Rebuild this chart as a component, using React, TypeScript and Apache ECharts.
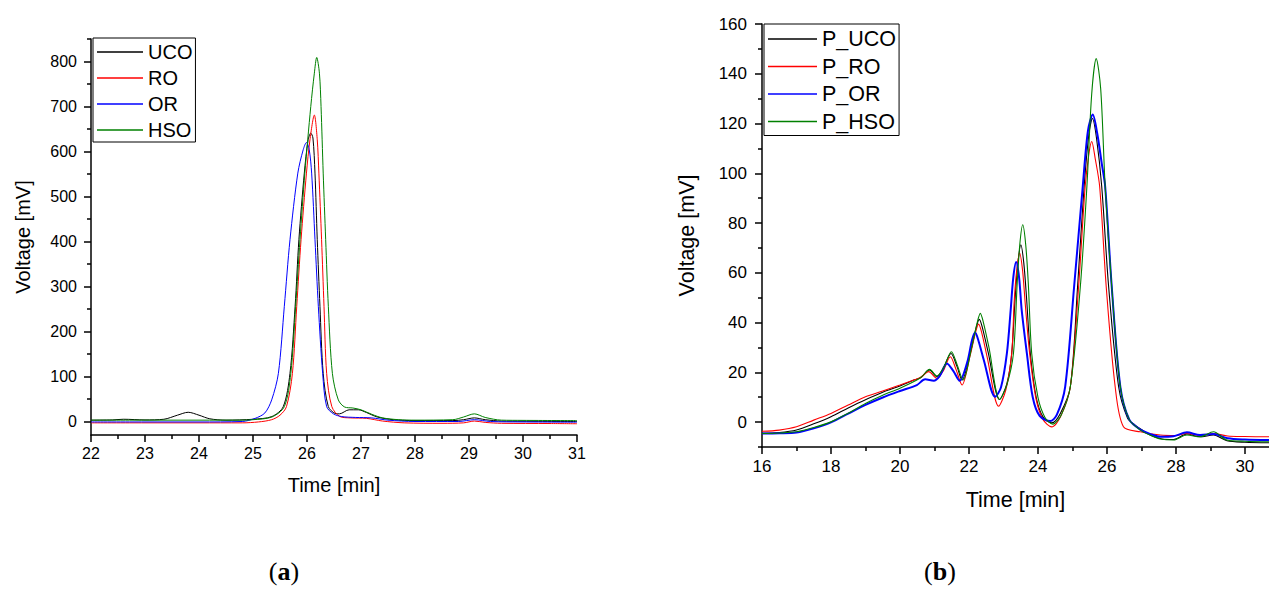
import React, { useEffect, useRef } from "react";
import * as echarts from "echarts";

// ---------- Data (time [min], voltage [mV]) ----------
const leftUCO: [number, number][] = [
  [22, 3], [22.4, 3.5], [22.6, 5], [23, 3.5], [23.35, 5], [23.6, 14], [23.8, 20.5], [24.0, 14], [24.2, 6], [24.5, 3],
  [25, 5], [25.35, 11], [25.56, 33], [25.685, 107], [25.78, 256], [25.85, 404], [25.95, 552], [26.02, 625],
  [26.07, 641], [26.11, 630], [26.148, 552], [26.19, 404], [26.24, 256], [26.3, 107], [26.395, 33], [26.52, 18],
  [26.6, 17], [26.78, 26], [26.95, 26], [27.1, 20], [27.3, 10], [27.6, 4], [28, 2], [28.7, 2], [28.9, 4],
  [29.1, 8], [29.3, 4], [29.6, 1], [30, 0.5], [31, 0],
];
const leftRO: [number, number][] = [
  [22, -3], [23, -3], [24, -3], [24.8, -3], [25.1, -1], [25.346, 4], [25.5, 14], [25.62, 33], [25.73, 107],
  [25.81, 256], [25.89, 404], [25.99, 552], [26.055, 626], [26.136, 681], [26.19, 626], [26.22, 552], [26.27, 404],
  [26.315, 256], [26.364, 107], [26.46, 33], [26.61, 11], [26.8, 8], [27.1, 7], [27.4, 1], [27.8, -3], [28.5, -4],
  [28.9, -3], [29.1, 1], [29.3, -2], [29.6, -4], [30.5, -4.5], [31, -5],
];
const leftOR: [number, number][] = [
  [22, -1], [23, -1], [24, -1], [24.8, 0], [25.04, 7], [25.22, 19], [25.346, 48], [25.47, 107], [25.58, 256],
  [25.685, 404], [25.83, 552], [25.93, 604], [25.99, 620], [26.04, 605], [26.086, 552], [26.148, 404], [26.21, 256],
  [26.29, 107], [26.364, 33], [26.49, 17], [26.64, 11], [26.9, 9], [27.2, 8], [27.5, 3], [28, 0], [28.8, 0],
  [29.1, 4], [29.4, 0], [30, -1], [31, -1.5],
];
const leftHSO: [number, number][] = [
  [22, 3], [23, 3], [24, 3], [24.8, 3], [25, 4], [25.35, 10], [25.58, 33], [25.7, 107], [25.79, 256], [25.87, 404],
  [25.96, 552], [26.07, 700], [26.136, 774], [26.18, 809], [26.23, 774], [26.26, 700], [26.3, 552], [26.346, 404],
  [26.395, 256], [26.47, 107], [26.58, 48], [26.7, 32], [26.85, 30], [27, 26], [27.2, 16], [27.4, 8], [27.7, 4],
  [28, 3], [28.7, 4], [28.9, 10], [29.1, 17], [29.3, 9], [29.6, 3], [30, 2.5], [31, 2],
];

const rightUCO: [number, number][] = [
  [16, -4.5], [16.5, -4.2], [17, -3.2], [17.5, -0.7], [18, 2.2], [18.5, 5.7], [19, 9.0], [19.5, 12.0], [20, 14.5],
  [20.4, 16.9], [20.6, 17.8], [20.85, 21.0], [21.07, 18.3], [21.25, 21.5], [21.48, 27.6], [21.65, 22.5], [21.8, 16.9],
  [22.05, 28.5], [22.21, 38], [22.3, 41.3], [22.39, 38], [22.55, 28.5], [22.89, 9.1], [23.1, 15.5], [23.24, 27.6],
  [23.34, 50], [23.42, 64], [23.506, 71.3], [23.59, 64], [23.67, 50], [23.78, 27.6], [23.95, 10], [24.15, 2],
  [24.4, -0.3], [24.65, 3.5], [24.94, 14.2], [25.15, 54.5], [25.34, 94.7], [25.48, 116], [25.58, 122], [25.7, 114],
  [25.85, 94.7], [26.05, 54.5], [26.34, 14.2], [26.6, 1.5], [26.8, -1], [27.0, -3], [27.3, -5.5], [27.6, -6.8],
  [27.93, -7], [28.32, -4.8], [28.7, -5.9], [29.09, -5.2], [29.48, -7.5], [30.0, -8.1], [30.7, -8.3],
];
const rightRO: [number, number][] = [
  [16, -3.7], [16.5, -3.2], [17, -1.9], [17.5, 0.8], [18, 3.5], [18.5, 6.9], [19, 10.2], [19.5, 12.5], [20, 14.9],
  [20.4, 16.9], [20.6, 18], [20.83, 20.3], [21.07, 17.6], [21.25, 20.5], [21.46, 26.3], [21.63, 21], [21.8, 14.9],
  [22.03, 26.5], [22.19, 36], [22.28, 39.4], [22.37, 36], [22.53, 26], [22.86, 6.4], [23.07, 13], [23.24, 27.6],
  [23.31, 48], [23.385, 61], [23.47, 67.9], [23.555, 61], [23.63, 48], [23.76, 27.6], [23.95, 9], [24.15, 1],
  [24.4, -1.9], [24.65, 2], [24.94, 14.2], [25.18, 54.5], [25.37, 94.7], [25.48, 108], [25.56, 112.8], [25.66, 106],
  [25.79, 94.7], [25.98, 54.5], [26.24, 14.2], [26.48, -1.9], [26.97, -3.9], [27.55, -5.2], [28.0, -5.4],
  [28.3, -4.6], [28.7, -5.3], [29.1, -4.6], [29.5, -5.6], [30.0, -5.8], [30.7, -5.9],
];
const rightOR: [number, number][] = [
  [16, -4.6], [16.5, -4.5], [17, -4.2], [17.5, -2.5], [18, -0.1], [18.5, 3.4], [19, 6.9], [19.5, 9.9], [20, 12.5],
  [20.49, 14.9], [20.73, 17.2], [20.98, 16.6], [21.15, 18.5], [21.36, 23.6], [21.55, 20.5], [21.73, 16.6],
  [21.95, 24], [22.09, 33], [22.18, 36], [22.27, 33], [22.43, 25], [22.76, 10.2], [22.93, 14], [23.1, 27.6],
  [23.21, 45], [23.285, 58], [23.37, 64.3], [23.455, 58], [23.53, 45], [23.68, 27.6], [23.85, 10], [24.05, 2.5],
  [24.356, 0.4], [24.55, 3], [24.79, 14.2], [25.05, 54.5], [25.3, 94.7], [25.45, 117], [25.59, 123.6], [25.72, 116],
  [25.85, 104], [25.95, 94.7], [26.14, 54.5], [26.39, 14.2], [26.65, 1], [26.97, -3], [27.3, -5], [27.55, -5.9],
  [27.93, -5.7], [28.32, -4.1], [28.7, -5.2], [29.09, -4.8], [29.5, -6.5], [30.0, -7.0], [30.7, -7.2],
];
const rightHSO: [number, number][] = [
  [16, -4.6], [16.5, -4.4], [17, -3.9], [17.5, -2.2], [18, 0.1], [18.5, 3.6], [19, 7.5], [19.5, 10.8], [20, 13.6],
  [20.49, 16.9], [20.65, 18.5], [20.86, 21.2], [21.07, 18.5], [21.27, 22], [21.49, 28.3], [21.66, 23], [21.83, 16.9],
  [22.08, 30], [22.24, 40], [22.33, 43.7], [22.42, 40], [22.58, 30], [22.89, 9.1], [23.1, 15], [23.29, 27.6],
  [23.4, 56], [23.475, 71.5], [23.56, 79.3], [23.645, 71.5], [23.72, 56], [23.82, 27.6], [24.0, 10], [24.2, 2],
  [24.43, -0.8], [24.68, 3], [24.94, 14.2], [25.23, 54.5], [25.42, 94.7], [25.56, 132], [25.69, 146.1],
  [25.82, 134], [25.95, 94.7], [26.14, 54.5], [26.39, 14.2], [26.65, 1], [26.97, -3.2], [27.3, -5.5], [27.55, -6.8],
  [27.93, -7.2], [28.32, -5.2], [28.7, -5.9], [29.09, -3.9], [29.48, -7.2], [30.0, -7.7], [30.7, -7.9],
];

// ---------- Tick values ----------
const leftYMajor = [0, 100, 200, 300, 400, 500, 600, 700, 800];
const leftYMinor = [50, 150, 250, 350, 450, 550, 650, 750, 850];
const rightYMajor = [0, 20, 40, 60, 80, 100, 120, 140, 160];
const rightYMinor = [-10, 10, 30, 50, 70, 90, 110, 130, 150];
const rightXMajor = [16, 18, 20, 22, 24, 26, 28, 30];
const rightXMinor = [17, 19, 21, 23, 25, 27, 29];

const leftNames = ["UCO", "RO", "OR", "HSO"];
const rightNames = ["P_UCO", "P_RO", "P_OR", "P_HSO"];
const colors = ["#000000", "#ff0000", "#0000ff", "#008000"];

const FONT = "Liberation Sans";

function App() {
  const ref = useRef<HTMLDivElement>(null);

  useEffect(() => {
    if (!ref.current) return;
    const chart = echarts.init(ref.current, null, { renderer: "svg" });

    const tickStyle = { color: "#000", width: 1.5 };
    const minorAxis = (grid: number, min: number, max: number, vals: number[], position: string) => ({
      type: "value" as const,
      gridIndex: grid,
      position,
      min,
      max,
      splitLine: { show: false },
      axisLine: { show: false, onZero: false },
      axisLabel: { show: false },
      axisTick: { show: true, inside: false, length: 4, customValues: vals, lineStyle: tickStyle },
    });

    const leftData = [leftUCO, leftRO, leftOR, leftHSO];
    const rightData = [rightUCO, rightRO, rightOR, rightHSO];

    const series: any[] = [];
    leftData.forEach((d, i) =>
      series.push({
        name: leftNames[i],
        type: "line",
        xAxisIndex: 0,
        yAxisIndex: 0,
        data: d,
        smooth: 0.3,
        symbol: "none",
        clip: true,
        lineStyle: { color: colors[i], width: 1 },
        itemStyle: { color: colors[i] },
      })
    );
    rightData.forEach((d, i) =>
      series.push({
        name: rightNames[i],
        type: "line",
        xAxisIndex: 1,
        yAxisIndex: 2,
        data: d,
        smooth: 0.3,
        symbol: "none",
        clip: true,
        lineStyle: { color: colors[i], width: i === 2 ? 2 : 1.1 },
        itemStyle: { color: colors[i] },
      })
    );

    const legendData = (names: string[]) => names.map((n) => ({ name: n, icon: "rect" }));

    const option: any = {
      animation: false,
      backgroundColor: "#ffffff",
      grid: [
        { left: 91, top: 39, width: 486, height: 396 },
        { left: 762, top: 24, width: 507, height: 423 },
      ],
      xAxis: [
        {
          type: "value",
          gridIndex: 0,
          position: "bottom",
          min: 22,
          max: 31,
          interval: 1,
          splitLine: { show: false },
          axisLine: { show: true, onZero: false, lineStyle: { color: "#000", width: 1.5 } },
          axisTick: { show: true, inside: false, length: 7, lineStyle: tickStyle },
          minorTick: { show: true, splitNumber: 2, length: 4, lineStyle: tickStyle },
          axisLabel: { color: "#000", fontSize: 16, fontFamily: FONT, margin: 10 },
          name: "Time [min]",
          nameLocation: "middle",
          nameGap: 40,
          nameTextStyle: { color: "#000", fontSize: 20, fontFamily: FONT },
        },
        {
          type: "value",
          gridIndex: 1,
          position: "bottom",
          min: 16,
          max: 30.7,
          splitLine: { show: false },
          axisLine: { show: true, onZero: false, lineStyle: { color: "#000", width: 1.5 } },
          axisTick: { show: true, inside: false, length: 7, customValues: rightXMajor, lineStyle: tickStyle },
          axisLabel: { color: "#000", fontSize: 17, fontFamily: FONT, margin: 11, customValues: rightXMajor },
          name: "Time [min]",
          nameLocation: "middle",
          nameGap: 42,
          nameTextStyle: { color: "#000", fontSize: 21.5, fontFamily: FONT },
        },
        minorAxis(1, 16, 30.7, rightXMinor, "bottom"),
      ],
      yAxis: [
        {
          type: "value",
          gridIndex: 0,
          position: "left",
          min: -30,
          max: 850,
          splitLine: { show: false },
          axisLine: { show: true, onZero: false, lineStyle: { color: "#000", width: 1.5 } },
          axisTick: { show: true, inside: false, length: 7, customValues: leftYMajor, lineStyle: tickStyle },
          axisLabel: { color: "#000", fontSize: 16, fontFamily: FONT, margin: 14, customValues: leftYMajor },
          name: "Voltage [mV]",
          nameLocation: "middle",
          nameGap: 58,
          nameTextStyle: { color: "#000", fontSize: 20, fontFamily: FONT },
        },
        minorAxis(0, -30, 850, leftYMinor, "left"),
        {
          type: "value",
          gridIndex: 1,
          position: "left",
          min: -10,
          max: 160,
          splitLine: { show: false },
          axisLine: { show: true, onZero: false, lineStyle: { color: "#000", width: 1.5 } },
          axisTick: { show: true, inside: false, length: 7, customValues: rightYMajor, lineStyle: tickStyle },
          axisLabel: { color: "#000", fontSize: 17, fontFamily: FONT, margin: 15, customValues: rightYMajor },
          name: "Voltage [mV]",
          nameLocation: "middle",
          nameGap: 64,
          nameTextStyle: { color: "#000", fontSize: 21.5, fontFamily: FONT },
        },
        minorAxis(1, -10, 160, rightYMinor, "left"),
      ],
      legend: [
        {
          data: legendData(leftNames),
          orient: "vertical",
          left: 93,
          top: 38,
          padding: [4, 3, 2, 4],
          itemGap: 6,
          itemWidth: 46,
          itemHeight: 1.3,
          borderColor: "#000",
          borderWidth: 1,
          borderRadius: 0,
          textStyle: { color: "#000", fontSize: 20, fontFamily: FONT, lineHeight: 20 },
        },
        {
          data: legendData(rightNames),
          orient: "vertical",
          left: 764,
          top: 24,
          padding: [4, 3, 3, 4],
          itemGap: 5.5,
          itemWidth: 49,
          itemHeight: 1.6,
          borderColor: "#000",
          borderWidth: 1,
          borderRadius: 0,
          textStyle: { color: "#000", fontSize: 21.5, fontFamily: FONT, lineHeight: 21.5 },
        },
      ],
      graphic: [
        {
          type: "text",
          x: 284,
          y: 571,
          style: {
            text: "{p|(}{b|a}{p|)}",
            align: "center",
            verticalAlign: "middle",
            rich: {
              p: { fontSize: 26, fontFamily: "Liberation Serif", fill: "#000" },
              b: { fontSize: 26, fontFamily: "Liberation Serif", fontWeight: "bold", fill: "#000" },
            },
          },
        },
        {
          type: "text",
          x: 940,
          y: 571,
          style: {
            text: "{p|(}{b|b}{p|)}",
            align: "center",
            verticalAlign: "middle",
            rich: {
              p: { fontSize: 26, fontFamily: "Liberation Serif", fill: "#000" },
              b: { fontSize: 26, fontFamily: "Liberation Serif", fontWeight: "bold", fill: "#000" },
            },
          },
        },
      ],
      series,
    };

    chart.setOption(option);
    return () => chart.dispose();
  }, []);

  return (
    <div
      ref={ref}
      style={{ position: "fixed", left: 0, top: 0, width: 1269, height: 589, background: "#fff" }}
    />
  );
}

export default App;
